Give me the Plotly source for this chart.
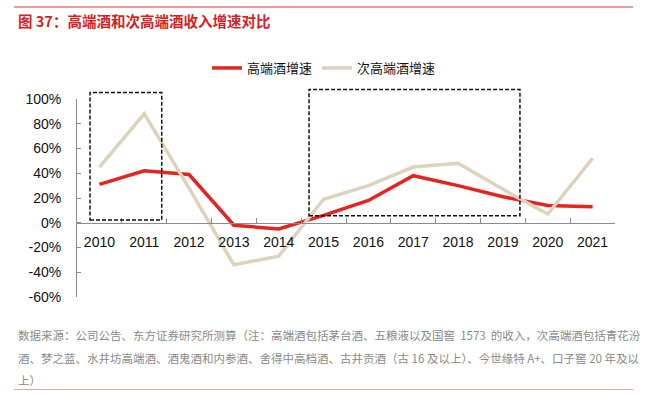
import plotly.graph_objects as go

years = ["2010", "2011", "2012", "2013", "2014", "2015", "2016", "2017", "2018", "2019", "2020", "2021"]
high_end = [31, 42, 39, -2, -5, 6, 18, 38, 30, 21, 14, 13]
sub_high_end = [45, 88, 28, -34, -27, 19, 30, 45, 48, 27, 7, 52]
y_ticks = [-60, -40, -20, 0, 20, 40, 60, 80, 100]
y_tick_labels = [f"{v}%" for v in y_ticks]

Y_MIN, Y_MAX = -60, 100
N = len(years)

# highlighted periods: (category index start, end, value low, value high)
boxes = [(-0.21, 1.39, 2.3, 105.3), (4.675, 9.38, 5.7, 107.7)]

W, H = 646, 395
ML, MR, MT, MB = 77, 31, 99, 98
PW, PH = W - ML - MR, H - MT - MB


def px_x(px):
    return (px - ML) / PW


def px_y(py):
    return (H - MB - py) / PH


def idx_to_paper(i):
    return (i + 0.5) / N


def val_to_paper(v):
    return (v - Y_MIN) / (Y_MAX - Y_MIN)


fig = go.Figure()
fig.add_trace(go.Scatter(x=years, y=high_end, mode="lines", name="高端酒增速",
                         line=dict(color="#e52420", width=3.5)))
fig.add_trace(go.Scatter(x=years, y=sub_high_end, mode="lines", name="次高端酒增速",
                         line=dict(color="#ddd3bd", width=3.5)))

shapes = []
for (x0, x1, y0, y1) in boxes:
    shapes.append(dict(type="rect", xref="paper", yref="paper",
                       x0=idx_to_paper(x0), x1=idx_to_paper(x1),
                       y0=val_to_paper(y0), y1=val_to_paper(y1),
                       line=dict(color="#111111", width=1.5, dash="4px,2px"),
                       fillcolor="rgba(0,0,0,0)", layer="above"))
# top red rule and bottom pink rule
shapes.append(dict(type="line", xref="paper", yref="paper",
                   x0=px_x(14), x1=px_x(633), y0=px_y(7), y1=px_y(7),
                   line=dict(color="#d9363a", width=1.2)))
shapes.append(dict(type="line", xref="paper", yref="paper",
                   x0=px_x(14), x1=px_x(633), y0=px_y(389.5), y1=px_y(389.5),
                   line=dict(color="#e3a3a3", width=1.2)))

footer = [
    "数据来源：公司公告、东方证券研究所测算（注：高端酒包括茅台酒、五粮液以及国窖  1573  的收入，次高端酒包括青花汾",
    "酒、梦之蓝、水井坊高端酒、酒鬼酒和内参酒、舍得中高档酒、古井贡酒（古 16 及以上）、今世缘特 A+、口子窖 20 年及以",
    "上）",
]
footer_y = [335, 357.5, 380]

annotations = [dict(text="<b>图 37：高端酒和次高端酒收入增速对比</b>", xref="paper", yref="paper",
                    x=px_x(15.5), y=px_y(20.5), xanchor="left", yanchor="middle", showarrow=False,
                    font=dict(family="Noto Sans CJK SC", size=14.5, color="#d61f26"))]
for t, yy in zip(footer, footer_y):
    annotations.append(dict(text=t.replace("  ", "&nbsp;&nbsp;"), xref="paper", yref="paper",
                            x=px_x(15.5), y=px_y(yy),
                            xanchor="left", yanchor="middle", showarrow=False,
                            font=dict(family="Noto Sans CJK SC", size=11.5, color="#8a8a8a")))

fig.update_layout(
    width=W, height=H,
    margin=dict(l=ML, r=MR, t=MT, b=MB, autoexpand=False),
    paper_bgcolor="white", plot_bgcolor="white",
    font=dict(family="Liberation Sans, Arial, sans-serif", size=14, color="#111111"),
    showlegend=True,
    legend=dict(orientation="h", x=px_x(207), y=px_y(68), xanchor="left", yanchor="middle",
                font=dict(family="Noto Sans CJK SC", size=13, color="#111111"),
                itemwidth=30, tracegroupgap=0, bgcolor="rgba(0,0,0,0)"),
    shapes=shapes,
    annotations=annotations,
)
fig.update_xaxes(type="category", range=[-0.5, N - 0.5], anchor="free", position=val_to_paper(0),
                 showline=True, linecolor="#8c8c8c", linewidth=1,
                 ticks="inside", ticklen=5, tickcolor="#8c8c8c", tickson="boundaries",
                 showgrid=False, zeroline=False, ticklabelstandoff=6,
                 tickfont=dict(family="Liberation Sans, Arial", size=14, color="#111111"))
fig.update_yaxes(range=[Y_MIN, Y_MAX], tickvals=y_ticks, ticktext=y_tick_labels,
                 showline=True, linecolor="#8c8c8c", linewidth=1,
                 ticks="inside", ticklen=4, tickcolor="#8c8c8c",
                 showgrid=False, zeroline=False, ticklabelstandoff=12,
                 tickfont=dict(family="Liberation Sans, Arial", size=14, color="#111111"))

fig.write_html("out.html", config={"displayModeBar": False},
               post_script="document.body.style.margin='0px';")
